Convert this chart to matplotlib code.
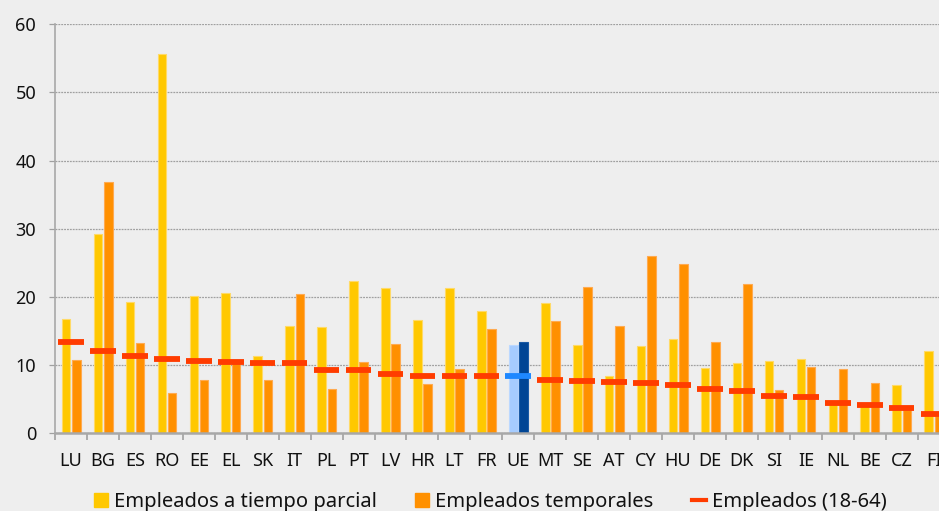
import numpy as np
import matplotlib
matplotlib.use('Agg')
import matplotlib.pyplot as plt
from matplotlib.patches import Patch
from matplotlib.lines import Line2D

plt.rcParams['font.family'] = ['Noto Sans', 'DejaVu Sans']

paises = ['LU', 'BG', 'ES', 'RO', 'EE', 'EL', 'SK', 'IT', 'PL', 'PT', 'LV', 'HR', 'LT', 'FR',
          'UE', 'MT', 'SE', 'AT', 'CY', 'HU', 'DE', 'DK', 'SI', 'IE', 'NL', 'BE', 'CZ', 'FI']
parcial = [16.7, 29.2, 19.2, 55.7, 20.1, 20.6, 11.3, 15.7, 15.6, 22.3, 21.3, 16.6, 21.3, 17.9,
           12.9, 19.1, 12.9, 8.4, 12.8, 13.8, 9.6, 10.3, 10.6, 10.8, 4.4, 4.0, 7.0, 12.0]
temporales = [10.7, 36.9, 13.2, 5.8, 7.8, 10.7, 7.8, 20.4, 6.4, 10.4, 13.0, 7.2, 9.4, 15.3,
              13.4, 16.4, 21.4, 15.7, 26.0, 24.8, 13.4, 21.9, 6.3, 9.7, 9.4, 7.3, 3.4, 2.5]
empleados = [13.4, 12.1, 11.35, 10.8, 10.6, 10.4, 10.3, 10.3, 9.3, 9.3, 8.6, 8.4, 8.4, 8.3,
             8.3, 7.8, 7.7, 7.5, 7.4, 7.1, 6.5, 6.1, 5.5, 5.3, 4.45, 4.15, 3.7, 2.8]

bg = '#EEEEEE'
c_par, c_tem, c_emp = '#FFC800', '#FF9000', '#FF3C00'
c_par_ue, c_tem_ue, c_emp_ue = '#A6CCFF', '#004595', '#1E88FF'

x = np.arange(len(paises))
ue = paises.index('UE')
col_par = [c_par_ue if i == ue else c_par for i in x]
col_tem = [c_tem_ue if i == ue else c_tem for i in x]
col_emp = [c_emp_ue if i == ue else c_emp for i in x]
edge_par = ['#BBD8FF' if i == ue else '#FFDA66' for i in x]
edge_tem = ['#1A5AA5' if i == ue else '#FFAA50' for i in x]

fig = plt.figure(figsize=(9.39, 5.11), dpi=100, facecolor=bg)
ax = fig.add_axes([55/939, 78/511, 894.6/939, 408.7/511], facecolor=bg)

ax.bar(x - 0.155, parcial, width=0.27, color=col_par, edgecolor=edge_par, linewidth=0.8, zorder=2)
ax.bar(x + 0.165, temporales, width=0.27, color=col_tem, edgecolor=edge_tem, linewidth=0.8, zorder=2)
ax.hlines(empleados, x - 0.4, x + 0.4, colors=col_emp, linewidth=4.2, zorder=3)

ax.set_xlim(-0.5, len(paises) - 0.5)
ax.set_ylim(0, 60)
ax.set_yticks(range(0, 61, 10))
ax.yaxis.grid(True, linestyle=(0, (1.5, 0.8)), color='#A0A0A0', linewidth=0.9, zorder=0)
ax.set_axisbelow(True)

ax.set_xticks(x)
ax.set_xticklabels(paises)
ax.set_xticks(np.arange(-0.5, len(paises), 1), minor=True)
ax.tick_params(axis='x', which='major', length=0, pad=14, labelsize=13, colors='#111111')
ax.tick_params(axis='x', which='minor', length=5, width=1.2, color='#A0A0A0')
ax.tick_params(axis='y', length=4.5, width=0.9, color='#A0A0A0', pad=9, labelsize=13, labelcolor='#111111')

for s in ['top', 'right']:
    ax.spines[s].set_visible(False)
ax.spines['left'].set_color('#A8A8A8')
ax.spines['left'].set_linewidth(1.2)
ax.spines['bottom'].set_color('#A8A8A8')
ax.spines['bottom'].set_linewidth(1.8)

handles = [Patch(facecolor=c_par, edgecolor=c_par),
           Patch(facecolor=c_tem, edgecolor=c_tem),
           Line2D([0], [0], color=c_emp, linewidth=3)]
labels = ['Empleados a tiempo parcial', 'Empleados temporales', 'Empleados (18-64)']
fig.legend(handles, labels, loc='center', bbox_to_anchor=(490/939, 1 - 502/511), ncol=3,
           frameon=False, fontsize=14.5, handlelength=0.7, handleheight=0.7,
           handletextpad=0.3, columnspacing=1.9, labelcolor='#111111')

fig.savefig('out.png', dpi=100, facecolor=bg)
